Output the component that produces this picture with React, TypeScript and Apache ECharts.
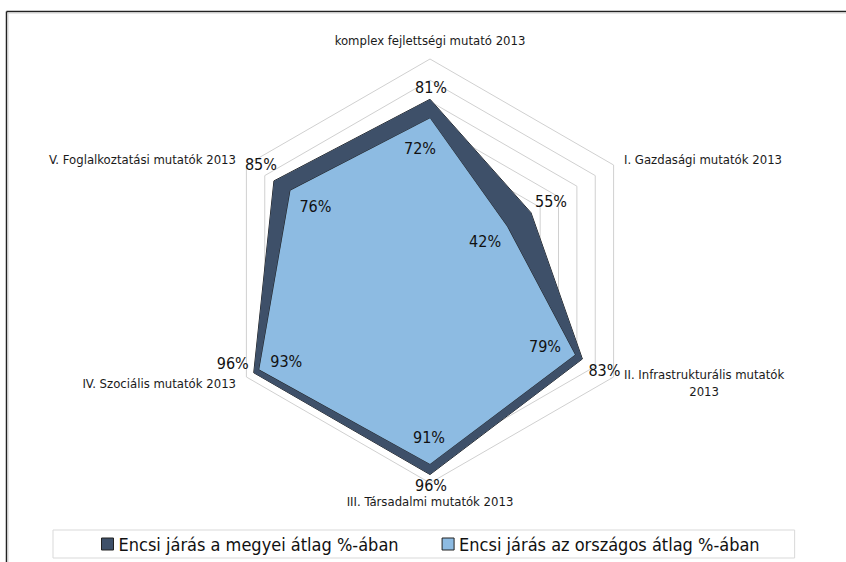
import React, { useEffect, useRef } from 'react';
import * as echarts from 'echarts';

const indicators = [
  'komplex fejlettségi mutató 2013',
  'I. Gazdasági mutatók 2013',
  'II. Infrastrukturális mutatók 2013',
  'III. Társadalmi mutatók 2013',
  'IV. Szociális mutatók 2013',
  'V. Foglalkoztatási mutatók 2013',
];
const wrappedIndicator = 'II. Infrastrukturális mutatók 2013';
const seriesNames = ['Encsi járás a megyei átlag %-ában', 'Encsi járás az országos átlag %-ában'];
const megyeiValues = [81, 55, 83, 96, 96, 85];
const orszagosValues = [72, 42, 79, 91, 93, 76];
const axisMin = 0;
const axisMax = 100;

// ECharts radar runs counter-clockwise; the reference runs clockwise
const displayOrder = [0, 5, 4, 3, 2, 1];

// label placement offsets (px) relative to each vertex, in natural indicator order
const megyeiLabelOffsets = [[1, -12], [20, -11], [22, 12], [1, 11], [-21, -9], [-13, -16]];
const orszagosLabelOffsets = [[-10, 30], [-22, 15], [-30, -8], [-1, -26], [27, -8], [25, 16]];

const FONT = '"DejaVu Sans Condensed", "DejaVu Sans", sans-serif';

const reorder = <T,>(arr: T[]) => displayOrder.map((i) => arr[i]);

function labelItems(values: number[], offsets: number[][], prefix: string) {
  const vals = reorder(values);
  const offs = reorder(offsets);
  return vals.map((_, j) => ({
    name: `${prefix}-${j}`,
    value: vals,
    label: {
      show: true,
      position: 'inside',
      offset: offs[j],
      color: '#111',
      fontSize: 16,
      fontFamily: FONT,
      formatter: (p: any) => (p.dimensionIndex === j ? `${p.value}%` : ''),
    },
  }));
}

export default function App() {
  const ref = useRef<HTMLDivElement>(null);
  useEffect(() => {
    if (!ref.current) return;
    const chart = echarts.init(ref.current, undefined, { renderer: 'svg' });
    chart.setOption({
      animation: false,
      backgroundColor: '#ffffff',
      graphic: [
        { type: 'line', shape: { x1: 6.5, y1: 11.5, x2: 846, y2: 11.5 }, style: { stroke: '#222', lineWidth: 1.5 }, silent: true },
        { type: 'line', shape: { x1: 6.5, y1: 11.5, x2: 6.5, y2: 562 }, style: { stroke: '#222', lineWidth: 1.5 }, silent: true },
        { type: 'line', shape: { x1: 8, y1: 13, x2: 846, y2: 13 }, style: { stroke: '#cfcfcf', lineWidth: 1 }, silent: true },
        { type: 'line', shape: { x1: 8, y1: 13, x2: 8, y2: 562 }, style: { stroke: '#cfcfcf', lineWidth: 1 }, silent: true },
      ],
      legend: {
        data: seriesNames,
        left: 53,
        top: 530,
        orient: 'horizontal',
        icon: 'rect',
        itemWidth: 12,
        itemHeight: 12,
        itemGap: 43,
        itemStyle: { borderColor: '#222', borderWidth: 1 },
        textStyle: { fontSize: 18, fontFamily: FONT, color: '#111' },
        borderColor: '#d9d9d9',
        borderWidth: 1,
        padding: [5, 35, 5, 48],
        selectedMode: false,
      },
      radar: {
        center: [430, 271],
        radius: 212,
        startAngle: 90,
        splitNumber: 10,
        shape: 'polygon',
        nameGap: 12,
        indicator: reorder(indicators).map((name) => ({ name, min: axisMin, max: axisMax })),
        axisName: {
          color: '#1a1a1a',
          fontSize: 13,
          fontFamily: FONT,
          formatter: (name: string) => {
            if (name === wrappedIndicator) {
              const k = name.lastIndexOf(' ');
              return `{a|${name.slice(0, k)}}\n{b|${name.slice(k + 1)}}`;
            }
            return name;
          },
          rich: {
            a: { fontSize: 13, fontFamily: FONT, color: '#1a1a1a', lineHeight: 17 },
            b: { fontSize: 13, fontFamily: FONT, color: '#1a1a1a', lineHeight: 17, align: 'center' },
          },
        },
        axisLine: { show: false },
        axisTick: { show: false },
        axisLabel: { show: false },
        splitLine: { lineStyle: { color: '#d0d0d0', width: 1 } },
        splitArea: { show: false },
      },
      series: [
        {
          type: 'radar',
          symbol: 'none',
          data: [
            {
              name: seriesNames[0],
              value: reorder(megyeiValues),
              itemStyle: { color: '#3e5069' },
              lineStyle: { color: '#1a1a1a', width: 1 },
              areaStyle: { color: '#3e5069', opacity: 1 },
            },
            {
              name: seriesNames[1],
              value: reorder(orszagosValues),
              itemStyle: { color: '#8dbbe2' },
              lineStyle: { color: '#1a1a1a', width: 1 },
              areaStyle: { color: '#8dbbe2', opacity: 1 },
            },
          ],
        },
        {
          type: 'radar',
          silent: true,
          symbol: 'circle',
          symbolSize: 1,
          z: 5,
          itemStyle: { color: 'rgba(0,0,0,0)' },
          lineStyle: { width: 0, opacity: 0 },
          data: [
            ...labelItems(megyeiValues, megyeiLabelOffsets, 'megyei'),
            ...labelItems(orszagosValues, orszagosLabelOffsets, 'orszagos'),
          ],
        },
      ],
    });
    return () => chart.dispose();
  }, []);
  return <div ref={ref} style={{ position: 'absolute', left: 0, top: 0, width: 846, height: 562 }} />;
}
